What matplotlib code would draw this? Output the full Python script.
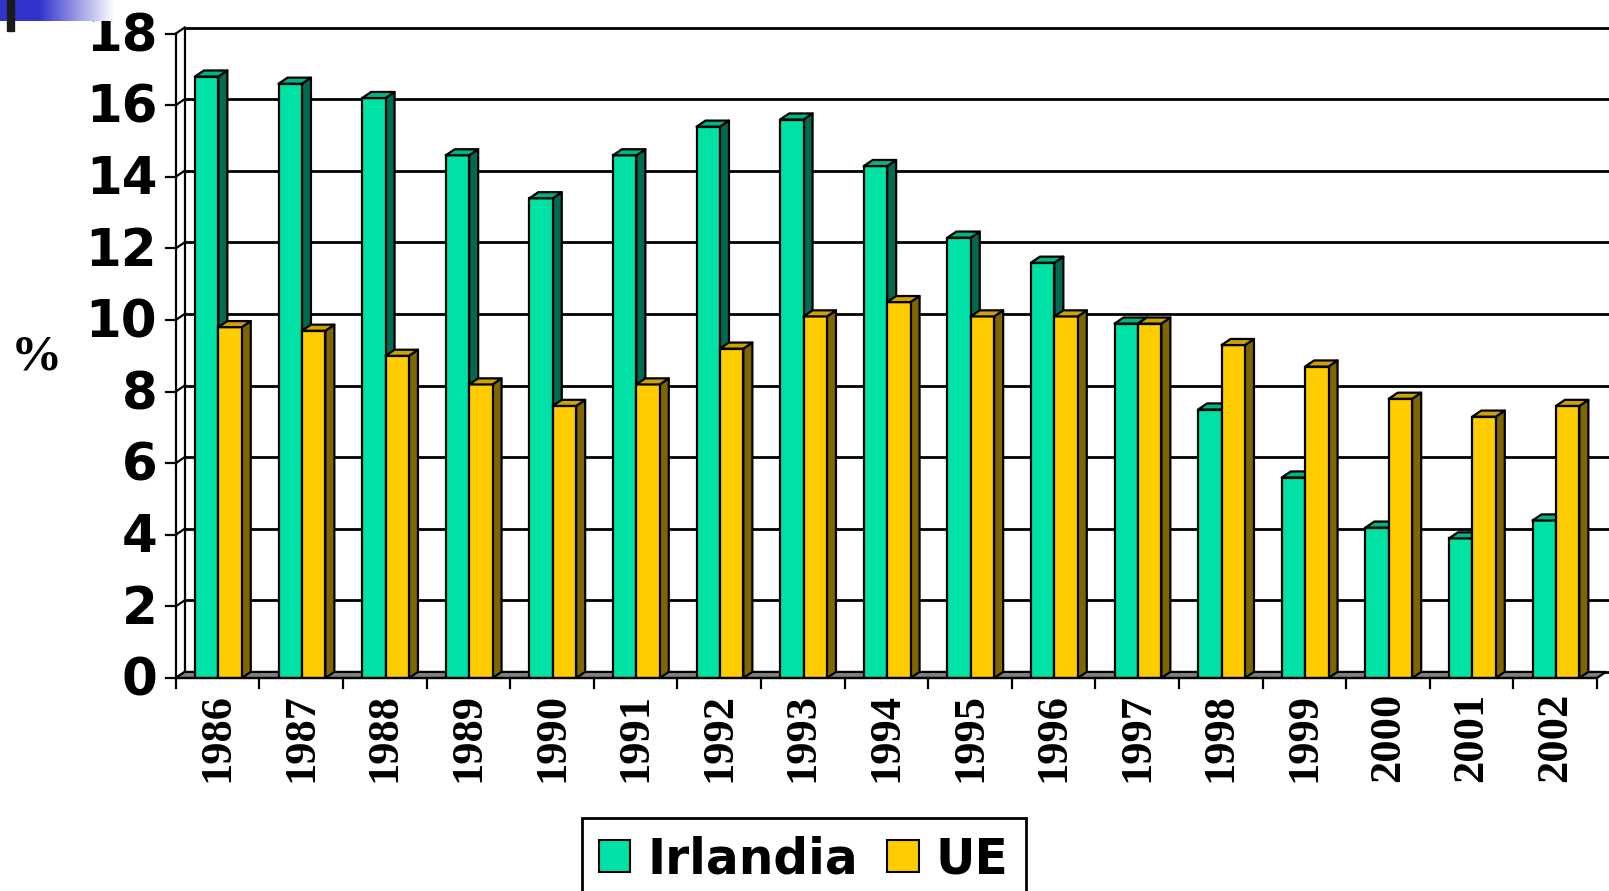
import numpy as np
import matplotlib
matplotlib.use('Agg')
from matplotlib import patches, pyplot as plt

# dati
anni = ['1986', '1987', '1988', '1989', '1990', '1991', '1992', '1993', '1994',
        '1995', '1996', '1997', '1998', '1999', '2000', '2001', '2002']
irlandia = [16.8, 16.6, 16.2, 14.6, 13.4, 14.6, 15.4, 15.6, 14.3,
            12.3, 11.6, 9.9, 7.5, 5.6, 4.2, 3.9, 4.4]
ue = [9.8, 9.7, 9.0, 8.2, 7.6, 8.2, 9.2, 10.1, 10.5,
      10.1, 10.1, 9.9, 9.3, 8.7, 7.8, 7.3, 7.6]
y_ticks = [0, 2, 4, 6, 8, 10, 12, 14, 16, 18]

# colori (fronte, sopra, lato)
verde = ('#00E1A5', '#00B486', '#006B50')
giallo = ('#FFCC00', '#CCA300', '#7F6600')

W, H = 1609, 891
fig = plt.figure(figsize=(W / 100, H / 100), dpi=100)

n = len(anni)
xmax = n + 0.16
px_cat = 83.6
px_val = 35.8
left, y0 = 175.7, 678
ax = fig.add_axes([left / W, (H - y0) / H, xmax * px_cat / W, 18.4 * px_val / H])
ax.set_xlim(0, xmax)
ax.set_ylim(0, 18.4)
ax.axis('off')

dx, dy = 0.108, 0.17   # profondità 3D in unità dati
lw = 1.6

# pavimento
ax.add_patch(patches.Polygon([(0, 0), (n, 0), (n + dx, dy), (dx, dy)],
                             closed=True, facecolor='#808080', edgecolor='black',
                             lw=lw, zorder=1, clip_on=False))

# parete di fondo: griglia
for v in y_ticks:
    ax.plot([dx, xmax], [v + dy, v + dy], color='black', lw=lw + 0.4, zorder=0.5,
            clip_on=False, solid_capstyle='butt')
# parete sinistra
ax.plot([0, 0], [0, 18], color='black', lw=lw, zorder=2, clip_on=False)
ax.plot([dx, dx], [dy, 18 + dy], color='black', lw=lw, zorder=0.5, clip_on=False)
for v in y_ticks:
    ax.plot([0, dx], [v, v], color='black', lw=0, zorder=0.6)
    ax.plot([0, dx], [v, v + dy], color='black', lw=lw, zorder=0.6, clip_on=False)
    ax.plot([-0.115, 0], [v, v], color='black', lw=lw, zorder=2, clip_on=False)
    ax.text(-0.22, v - 0.1, str(v), ha='right', va='center', fontsize=37,
            fontweight='bold', family='DejaVu Sans', clip_on=False)

# asse x
ax.plot([0, n], [0, 0], color='black', lw=lw, zorder=5, clip_on=False)
for i in range(n + 1):
    ax.plot([i, i], [0, -0.28], color='black', lw=lw, zorder=5, clip_on=False)
for i, a in enumerate(anni):
    ax.text(i + 0.5, -0.42, a, ha='center', va='top', rotation=90, fontsize=32,
            fontweight='bold', family='Liberation Serif', clip_on=False)


def barra3d(x0, w, h, col, z):
    x1 = x0 + w
    ax.bar(x0, h, width=w, align='edge', color=col[0], edgecolor='black',
           lw=lw, zorder=z)
    ax.add_patch(patches.Polygon([(x0, h), (x1, h), (x1 + dx, h + dy), (x0 + dx, h + dy)],
                                 closed=True, facecolor=col[1], edgecolor='black',
                                 lw=lw, zorder=z, joinstyle='round'))
    ax.add_patch(patches.Polygon([(x1, 0), (x1 + dx, dy), (x1 + dx, h + dy), (x1, h)],
                                 closed=True, facecolor=col[2], edgecolor='black',
                                 lw=lw, zorder=z - 0.1, joinstyle='round'))


bw = 0.28
for i in range(n):
    barra3d(i + 0.23, bw, irlandia[i], verde, 3 + i * 0.01)
    barra3d(i + 0.23 + bw, bw, ue[i], giallo, 3.5 + i * 0.01)

fig.text(36 / W, 1 - 357 / H, '%', ha='center', va='center', fontsize=37,
         fontweight='bold', family='Liberation Serif')

# legenda
handles = [patches.Patch(facecolor=verde[0], edgecolor='black', lw=1.5, label='Irlandia'),
           patches.Patch(facecolor=giallo[0], edgecolor='black', lw=1.5, label='UE')]
leg = fig.legend(handles=handles, loc='upper left', ncol=2,
                 bbox_to_anchor=(581.7 / W, 1 - 818 / H), borderaxespad=0,
                 prop={'family': 'DejaVu Sans', 'weight': 'bold', 'size': 35},
                 handlelength=0.65, handleheight=0.65, handletextpad=0.35,
                 columnspacing=0.6, borderpad=0.35, fancybox=False, framealpha=1)
leg.get_frame().set_edgecolor('black')
leg.get_frame().set_linewidth(2)

# decorazione in alto a sinistra
deco = fig.add_axes([0, 1 - 21 / H, 113 / W, 21 / H])
grad = np.ones((1, 113, 3))
t = np.clip((np.arange(113) - 38) / 75, 0, 1)
blu = np.array([0.2, 0.2, 0.8])
grad[0] = blu * (1 - t)[:, None] + t[:, None]
deco.imshow(grad, aspect='auto', extent=(0, 1, 0, 1))
deco.axis('off')
fig.add_artist(patches.Rectangle((7.3 / W, 1 - 30.7 / H), 6.7 / W, 30.7 / H,
                                 transform=fig.transFigure, color='#1a1a1a'))

fig.savefig('out.png', dpi=100)
